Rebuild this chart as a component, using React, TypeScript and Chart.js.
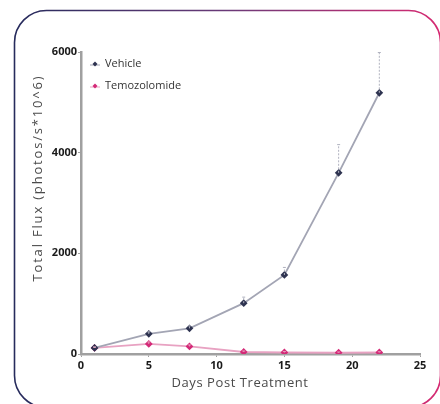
import React, { useEffect, useRef } from "react";
import { Chart, registerables } from "chart.js";

Chart.register(...registerables);

const days = [1, 5, 8, 12, 15, 19, 22];
const vehicle = [120, 400, 510, 1010, 1570, 3600, 5190];
const vehicleErr = [20, 40, 50, 120, 150, 560, 800];
const temozolomide = [120, 200, 150, 40, 30, 25, 30];
const temozolomideErr = [15, 40, 30, 20, 20, 15, 15];
const xTicks = [0, 5, 10, 15, 20, 25];
const yTicks = [0, 2000, 4000, 6000];
const seriesNames = ["Vehicle", "Temozolomide"];
const xTitle = "Days Post Treatment";
const yTitle = "Total Flux (photos/s*10^6)";

const FONT = "'Open Sans', 'DejaVu Sans', sans-serif";

const cardPlugin = {
  id: "card",
  beforeDraw(chart: any) {
    const ctx = chart.ctx;
    ctx.save();
    ctx.fillStyle = "#ffffff";
    ctx.fillRect(0, 0, chart.width, chart.height);
    const g = ctx.createLinearGradient(14, 0, 440, 0);
    g.addColorStop(0, "#262b5c");
    g.addColorStop(0.5, "#6a3a78");
    g.addColorStop(1, "#d62a72");
    ctx.strokeStyle = g;
    ctx.lineWidth = 1.6;
    ctx.beginPath();
    (ctx as any).roundRect(14.5, 10.5, 426, 397, 32);
    ctx.stroke();
    ctx.restore();
  },
};

const titlePlugin = {
  id: "titles",
  afterDraw(chart: any) {
    const ctx = chart.ctx;
    ctx.save();
    ctx.fillStyle = "#4a4a4a";
    ctx.font = `13px ${FONT}`;
    ctx.textAlign = "center";
    ctx.textBaseline = "middle";
    // x title
    const xw = ctx.measureText(xTitle).width;
    (ctx as any).letterSpacing = `${Math.max(0, (137 - xw) / xTitle.length)}px`;
    ctx.fillText(xTitle, 240, 383);
    // y title
    (ctx as any).letterSpacing = "0px";
    const yw = ctx.measureText(yTitle).width;
    (ctx as any).letterSpacing = `${Math.max(0, (207 - yw) / yTitle.length)}px`;
    ctx.translate(38, 178);
    ctx.rotate(-Math.PI / 2);
    ctx.fillText(yTitle, 0, 0);
    ctx.restore();
  },
};

const errorPlugin = {
  id: "errbars",
  afterDatasetsDraw(chart: any) {
    const ctx = chart.ctx;
    const xs = chart.scales.x;
    const ys = chart.scales.y;
    const sets = [
      { vals: vehicle, errs: vehicleErr, color: "#b0b2bf" },
      { vals: temozolomide, errs: temozolomideErr, color: "#e59ab9" },
    ];
    ctx.save();
    sets.forEach((s) => {
      ctx.strokeStyle = s.color;
      ctx.lineWidth = 1;
      days.forEach((d, i) => {
        const x = xs.getPixelForValue(d);
        const y0 = ys.getPixelForValue(s.vals[i]);
        const y1 = ys.getPixelForValue(s.vals[i] + s.errs[i]);
        ctx.setLineDash([2, 1.5]);
        ctx.beginPath();
        ctx.moveTo(x, y0);
        ctx.lineTo(x, y1);
        ctx.stroke();
        ctx.setLineDash([]);
        ctx.beginPath();
        ctx.moveTo(x - 1.5, y1);
        ctx.lineTo(x + 1.5, y1);
        ctx.stroke();
      });
    });
    ctx.restore();
  },
};

const legendPlugin = {
  id: "innerLegend",
  afterDraw(chart: any) {
    const ctx = chart.ctx;
    const left = chart.chartArea.left;
    const top = chart.chartArea.top;
    const items = [
      { name: seriesNames[0], color: "#2e3350", line: "#9fa1b0", y: top + 12 },
      { name: seriesNames[1], color: "#d42a78", line: "#ea9fc0", y: top + 34 },
    ];
    ctx.save();
    ctx.font = `11px ${FONT}`;
    ctx.textBaseline = "middle";
    items.forEach((it) => {
      const mx = left + 14;
      ctx.strokeStyle = it.line;
      ctx.lineWidth = 1;
      ctx.beginPath();
      ctx.moveTo(mx - 5, it.y + 1);
      ctx.lineTo(mx + 5, it.y + 1);
      ctx.stroke();
      ctx.fillStyle = it.color;
      ctx.beginPath();
      ctx.moveTo(mx, it.y - 2.5);
      ctx.lineTo(mx + 2.5, it.y);
      ctx.lineTo(mx, it.y + 2.5);
      ctx.lineTo(mx - 2.5, it.y);
      ctx.closePath();
      ctx.fill();
      ctx.fillStyle = "#333333";
      ctx.fillText(it.name, left + 24, it.y);
    });
    ctx.restore();
  },
};

export default function App() {
  const ref = useRef<HTMLCanvasElement | null>(null);
  useEffect(() => {
    document.body.style.margin = "0";
    const canvas = ref.current!;
    const chart = new Chart(canvas, {
      type: "line",
      data: {
        datasets: [
          {
            label: seriesNames[0],
            data: days.map((d, i) => ({ x: d, y: vehicle[i] })),
            borderColor: "#a3a5b4",
            borderWidth: 1.8,
            pointStyle: "rectRot",
            pointRadius: 2.6,
            pointBackgroundColor: "#2e3350",
            pointBorderColor: "#2e3350",
            tension: 0,
          },
          {
            label: seriesNames[1],
            data: days.map((d, i) => ({ x: d, y: temozolomide[i] })),
            borderColor: "#e8a2c2",
            borderWidth: 1.8,
            pointStyle: "rectRot",
            pointRadius: 2.6,
            pointBackgroundColor: "#d42a78",
            pointBorderColor: "#d42a78",
            tension: 0,
          },
        ],
      },
      options: {
        animation: false,
        responsive: false,
        maintainAspectRatio: false,
        layout: { padding: { left: 22, right: 20, top: 52, bottom: 12 } },
        plugins: { legend: { display: false }, tooltip: { enabled: false } },
        scales: {
          x: {
            type: "linear",
            min: 0,
            max: 25,
            afterBuildTicks: (s: any) => {
              s.ticks = xTicks.map((v) => ({ value: v }));
            },
            afterFit: (s: any) => {
              s.height = 38;
            },
            grid: { display: true, drawOnChartArea: false, tickLength: 3, color: "#a0a0a0", lineWidth: 1 },
            border: { display: true, color: "#a0a0a0", width: 2.5 },
            ticks: {
              color: "#1a1a1a",
              font: { family: FONT, size: 11, weight: "bold" },
              padding: 2,
              maxRotation: 0,
              callback: (v: any) => String(v),
            },
          },
          y: {
            min: 0,
            max: 6000,
            afterBuildTicks: (s: any) => {
              s.ticks = yTicks.map((v) => ({ value: v }));
            },
            afterFit: (s: any) => {
              s.width = 59;
            },
            grid: { display: true, drawOnChartArea: false, tickLength: 3, color: "#a0a0a0" },
            border: { display: true, color: "#a0a0a0", width: 2.5 },
            ticks: {
              color: "#1a1a1a",
              font: { family: FONT, size: 11, weight: "bold" },
              padding: 1,
              callback: (v: any) => String(v),
            },
          },
        },
      },
      plugins: [cardPlugin, errorPlugin, legendPlugin, titlePlugin],
    } as any);
    return () => chart.destroy();
  }, []);
  return (
    <div style={{ position: "relative", width: 440, height: 404 }}>
      <canvas ref={ref} width={440} height={404} style={{ display: "block", width: 440, height: 404 }} />
    </div>
  );
}
